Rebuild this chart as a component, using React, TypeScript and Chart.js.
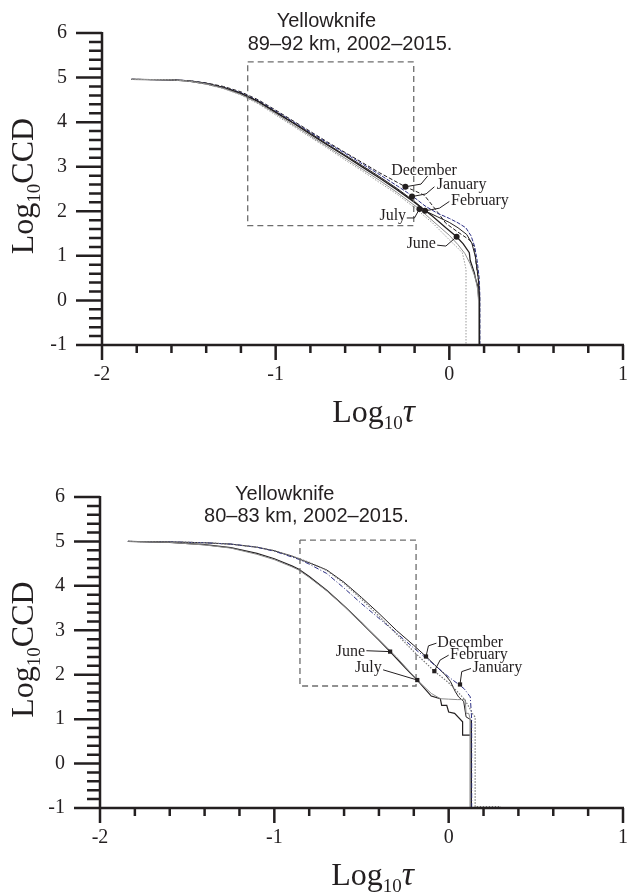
import { useEffect, useRef } from 'react';
import { Chart, registerables } from 'chart.js';
Chart.register(...registerables);

// ---------- shared axis ranges ----------
const X_MIN = -2;
const X_MAX = 1;
const Y_MIN = -1;
const Y_MAX = 6;
const MINOR_STEP = 0.2;

// ---------- top panel: 89–92 km ----------
const TOP_TITLE = ['Yellowknife', '89–92 km, 2002–2015.'];
const TOP_TITLE_X = [-0.994, -1.161];
const TOP_TITLE_Y = [6.14, 5.62];

const TOP_DEC_X = [-1.83, -1.6, -1.5, -1.4, -1.3, -1.2, -1.1, -1.0, -0.9, -0.8, -0.7, -0.6, -0.5, -0.4, -0.3, -0.253, -0.2, -0.144, -0.077, -0.02, 0.047, 0.115, 0.144, 0.155, 0.168, 0.172, 0.172];
const TOP_DEC_Y = [4.96, 4.95, 4.93, 4.88, 4.8, 4.68, 4.5, 4.27, 4.03, 3.79, 3.55, 3.32, 3.09, 2.86, 2.65, 2.55, 2.46, 2.36, 2.03, 1.73, 1.54, 1.36, 1.21, 0.8, 0.45, 0.2, -1];

const TOP_JAN_X = [-1.83, -1.6, -1.5, -1.4, -1.3, -1.2, -1.1, -1.0, -0.9, -0.8, -0.7, -0.6, -0.5, -0.4, -0.3, -0.215, -0.14, -0.07, 0.0, 0.05, 0.095, 0.125, 0.145, 0.16, 0.172, 0.176, 0.176];
const TOP_JAN_Y = [4.96, 4.95, 4.93, 4.87, 4.78, 4.66, 4.48, 4.25, 4.01, 3.77, 3.53, 3.3, 3.06, 2.82, 2.57, 2.35, 2.12, 1.96, 1.84, 1.74, 1.63, 1.45, 1.22, 0.9, 0.5, 0.1, -1];

const TOP_FEB_X = [-1.83, -1.6, -1.5, -1.4, -1.3, -1.2, -1.1, -1.0, -0.9, -0.8, -0.7, -0.6, -0.5, -0.4, -0.3, -0.2, -0.14, -0.07, 0.0, 0.05, 0.1, 0.13, 0.15, 0.165, 0.174, 0.174];
const TOP_FEB_Y = [4.96, 4.95, 4.93, 4.87, 4.78, 4.65, 4.47, 4.23, 3.99, 3.75, 3.5, 3.26, 3.02, 2.77, 2.51, 2.22, 2.01, 1.88, 1.75, 1.63, 1.48, 1.28, 0.98, 0.55, 0.1, -1];

const TOP_JUN_X = [-1.83, -1.6, -1.5, -1.4, -1.3, -1.2, -1.1, -1.0, -0.9, -0.8, -0.7, -0.6, -0.5, -0.4, -0.3, -0.2, -0.1, -0.02, 0.042, 0.08, 0.115, 0.12, 0.144, 0.15, 0.165, 0.17, 0.17];
const TOP_JUN_Y = [4.96, 4.95, 4.92, 4.86, 4.77, 4.64, 4.46, 4.22, 3.98, 3.73, 3.48, 3.24, 2.99, 2.74, 2.48, 2.2, 1.9, 1.63, 1.43, 1.27, 1.07, 0.9, 0.62, 0.5, 0.3, 0.0, -1];

const TOP_JUL_X = [-1.83, -1.6, -1.5, -1.4, -1.3, -1.2, -1.1, -1.0, -0.9, -0.8, -0.7, -0.6, -0.5, -0.4, -0.3, -0.172, -0.1, 0.0, 0.05, 0.09, 0.12, 0.15, 0.163, 0.168, 0.168];
const TOP_JUL_Y = [4.96, 4.95, 4.92, 4.86, 4.76, 4.62, 4.43, 4.19, 3.94, 3.69, 3.44, 3.19, 2.94, 2.69, 2.42, 2.05, 1.8, 1.46, 1.25, 1.05, 0.82, 0.5, 0.25, 0.0, -1];

const TOP_GRAY_X = [-1.83, -1.6, -1.5, -1.4, -1.3, -1.2, -1.1, -1.0, -0.9, -0.8, -0.7, -0.6, -0.5, -0.4, -0.3, -0.2, -0.097, 0.0, 0.05, 0.075, 0.088, 0.096, 0.096];
const TOP_GRAY_Y = [4.96, 4.95, 4.92, 4.85, 4.75, 4.61, 4.41, 4.16, 3.91, 3.66, 3.41, 3.15, 2.9, 2.64, 2.38, 2.08, 1.74, 1.36, 1.17, 1.07, 0.85, 0.7, -1];

const TOP_BOX_X = [-1.161, -0.205, -0.205, -1.161, -1.161];
const TOP_BOX_Y = [5.35, 5.35, 1.68, 1.68, 5.35];

const TOP_MONTHS = ['December', 'January', 'February', 'July', 'June'];
const TOP_DOT_X = [-0.253, -0.215, -0.14, -0.172, 0.042];
const TOP_DOT_Y = [2.55, 2.33, 2.01, 2.05, 1.43];
const TOP_LABEL_X = [-0.335, -0.073, 0.01, -0.249, -0.077];
const TOP_LABEL_Y = [2.81, 2.5, 2.14, 1.8, 1.18];
const TOP_LEADER_X = [
  [-0.253, -0.163, -0.125],
  [-0.215, -0.134, -0.086],
  [-0.14, -0.057, 0.0],
  [-0.245, -0.201, -0.172],
  [-0.07, -0.02, 0.042],
];
const TOP_LEADER_Y = [
  [2.55, 2.61, 2.79],
  [2.33, 2.39, 2.55],
  [2.01, 2.07, 2.22],
  [1.85, 1.85, 2.05],
  [1.24, 1.22, 1.43],
];

// ---------- bottom panel: 80–83 km ----------
const BOT_TITLE = ['Yellowknife', '80–83 km, 2002–2015.'];
const BOT_TITLE_X = [-1.225, -1.403];
const BOT_TITLE_Y = [5.93, 5.44];

const BOT_DEC_X = [-1.84, -1.6, -1.4, -1.25, -1.1, -1.0, -0.9, -0.862, -0.8, -0.7, -0.6, -0.5, -0.4, -0.3, -0.2, -0.13, -0.08, -0.02, 0.01, 0.038, 0.057, 0.086, 0.1, 0.13, 0.13];
const BOT_DEC_Y = [5.0, 4.99, 4.97, 4.94, 4.87, 4.79, 4.67, 4.61, 4.52, 4.36, 4.08, 3.74, 3.38, 3.0, 2.66, 2.41, 2.22, 2.0, 1.85, 1.62, 1.5, 1.4, 1.05, 0.98, -1];

const BOT_JAN_X = [-1.84, -1.6, -1.4, -1.25, -1.1, -1.0, -0.9, -0.862, -0.8, -0.7, -0.6, -0.5, -0.4, -0.3, -0.2, -0.1, 0.0, 0.065, 0.09, 0.124, 0.132, 0.132];
const BOT_JAN_Y = [5.0, 4.99, 4.97, 4.94, 4.87, 4.78, 4.65, 4.6, 4.49, 4.28, 3.95, 3.6, 3.27, 2.94, 2.6, 2.28, 1.95, 1.76, 1.68, 1.5, 1.0, -1];

const BOT_FEB_X = [-1.84, -1.6, -1.4, -1.25, -1.1, -1.0, -0.9, -0.862, -0.8, -0.7, -0.6, -0.5, -0.4, -0.3, -0.2, -0.082, 0.0, 0.05, 0.09, 0.12, 0.14, 0.152, 0.152, 0.3];
const BOT_FEB_Y = [5.0, 4.99, 4.97, 4.94, 4.87, 4.79, 4.67, 4.62, 4.53, 4.35, 4.06, 3.7, 3.32, 2.92, 2.52, 2.08, 1.82, 1.62, 1.45, 1.25, 1.1, 1.05, -0.97, -0.97];

const BOT_JUN_X = [-1.84, -1.6, -1.4, -1.25, -1.1, -1.0, -0.9, -0.862, -0.8, -0.7, -0.6, -0.5, -0.4, -0.336, -0.25, -0.18, -0.1, -0.048, -0.04, -0.011, 0.0, 0.034, 0.08, 0.08, 0.126, 0.126];
const BOT_JUN_Y = [5.0, 4.98, 4.93, 4.86, 4.73, 4.61, 4.45, 4.38, 4.21, 3.9, 3.55, 3.17, 2.78, 2.52, 2.16, 1.88, 1.52, 1.46, 1.31, 1.31, 1.16, 1.13, 0.94, 0.64, 0.64, -1];

const BOT_JUL_X = [-1.84, -1.6, -1.4, -1.25, -1.1, -1.0, -0.9, -0.862, -0.8, -0.7, -0.6, -0.5, -0.4, -0.3, -0.18, -0.1, -0.048, 0.0, 0.05, 0.095, 0.1, 0.115, 0.124, 0.124];
const BOT_JUL_Y = [5.0, 4.98, 4.92, 4.85, 4.71, 4.59, 4.43, 4.36, 4.19, 3.89, 3.54, 3.17, 2.79, 2.4, 1.88, 1.58, 1.46, 1.45, 1.44, 1.44, 1.13, 1.13, 1.0, -1];

const BOT_BOX_X = [-0.853, -0.187, -0.187, -0.853, -0.853];
const BOT_BOX_Y = [5.03, 5.03, 1.746, 1.746, 5.03];

const BOT_MONTHS = ['December', 'February', 'January', 'June', 'July'];
const BOT_DOT_X = [-0.13, -0.082, 0.065, -0.336, -0.18];
const BOT_DOT_Y = [2.41, 2.08, 1.78, 2.52, 1.88];
const BOT_LABEL_X = [-0.065, 0.008, 0.136, -0.48, -0.384];
const BOT_LABEL_Y = [2.624, 2.354, 2.061, 2.41, 2.061];
const BOT_LEADER_X = [
  [-0.13, -0.116, -0.07],
  [-0.082, -0.049, 0.0],
  [0.065, 0.075, 0.128],
  [-0.472, -0.336],
  [-0.376, -0.18],
];
const BOT_LEADER_Y = [
  [2.41, 2.65, 2.71],
  [2.08, 2.33, 2.44],
  [1.78, 2.07, 2.14],
  [2.54, 2.52],
  [2.11, 1.88],
];

// ---------- styles ----------
const INK = '#231f20';
const BLUE = '#2b2e83';
const GRAY = '#8c8c8c';
const SERIF = '"Liberation Serif", "Times New Roman", serif';
const SANS = '"Liberation Sans", Arial, sans-serif';

type LineStyle = { color: string; width: number; dash: number[] };
type SeriesCfg = { xs: number[]; ys: number[]; style: LineStyle };

interface PanelCfg {
  canvasH: number;
  padTop: number;
  padRight: number;
  yAxisW: number;
  xAxisH: number;
  title: string[];
  titleX: number[];
  titleY: number[];
  series: SeriesCfg[];
  boxX: number[];
  boxY: number[];
  months: string[];
  dotX: number[];
  dotY: number[];
  labelX: number[];
  labelY: number[];
  labelAlign: CanvasTextAlign[];
  leaderX: number[][];
  leaderY: number[][];
  dotStyle: 'circle' | 'rect';
}

const pts = (xs: number[], ys: number[]) => xs.map((x, i) => ({ x, y: ys[i] }));

const TOP_CFG: PanelCfg = {
  canvasH: 446,
  padTop: 33,
  padRight: 3,
  yAxisW: 102,
  xAxisH: 101,
  title: TOP_TITLE,
  titleX: TOP_TITLE_X,
  titleY: TOP_TITLE_Y,
  series: [
    { xs: TOP_GRAY_X, ys: TOP_GRAY_Y, style: { color: '#9a9a9a', width: 1, dash: [1.5, 1.5] } },
    { xs: TOP_JUL_X, ys: TOP_JUL_Y, style: { color: GRAY, width: 1, dash: [] } },
    { xs: TOP_FEB_X, ys: TOP_FEB_Y, style: { color: INK, width: 1, dash: [] } },
    { xs: TOP_JUN_X, ys: TOP_JUN_Y, style: { color: INK, width: 1.3, dash: [] } },
    { xs: TOP_JAN_X, ys: TOP_JAN_Y, style: { color: BLUE, width: 1, dash: [4, 1.5] } },
    { xs: TOP_DEC_X, ys: TOP_DEC_Y, style: { color: INK, width: 1, dash: [4, 2] } },
  ],
  boxX: TOP_BOX_X,
  boxY: TOP_BOX_Y,
  months: TOP_MONTHS,
  dotX: TOP_DOT_X,
  dotY: TOP_DOT_Y,
  labelX: TOP_LABEL_X,
  labelY: TOP_LABEL_Y,
  labelAlign: ['left', 'left', 'left', 'right', 'right'],
  leaderX: TOP_LEADER_X,
  leaderY: TOP_LEADER_Y,
  dotStyle: 'circle',
};

const BOT_CFG: PanelCfg = {
  canvasH: 446,
  padTop: 51,
  padRight: 4,
  yAxisW: 100,
  xAxisH: 84,
  title: BOT_TITLE,
  titleX: BOT_TITLE_X,
  titleY: BOT_TITLE_Y,
  series: [
    { xs: BOT_FEB_X, ys: BOT_FEB_Y, style: { color: '#777777', width: 1.2, dash: [1.5, 1.5] } },
    { xs: BOT_JUL_X, ys: BOT_JUL_Y, style: { color: GRAY, width: 1, dash: [] } },
    { xs: BOT_JUN_X, ys: BOT_JUN_Y, style: { color: INK, width: 1.2, dash: [] } },
    { xs: BOT_JAN_X, ys: BOT_JAN_Y, style: { color: BLUE, width: 1, dash: [5, 2, 1, 2] } },
    { xs: BOT_DEC_X, ys: BOT_DEC_Y, style: { color: INK, width: 1, dash: [] } },
  ],
  boxX: BOT_BOX_X,
  boxY: BOT_BOX_Y,
  months: BOT_MONTHS,
  dotX: BOT_DOT_X,
  dotY: BOT_DOT_Y,
  labelX: BOT_LABEL_X,
  labelY: BOT_LABEL_Y,
  labelAlign: ['left', 'left', 'left', 'right', 'right'],
  leaderX: BOT_LEADER_X,
  leaderY: BOT_LEADER_Y,
  dotStyle: 'rect',
};

type Part = { text: string; font: string; dy: number };

function drawParts(ctx: CanvasRenderingContext2D, parts: Part[], cx: number, baseY: number) {
  let total = 0;
  for (const p of parts) {
    ctx.font = p.font;
    total += ctx.measureText(p.text).width;
  }
  let x = cx - total / 2;
  ctx.textAlign = 'left';
  ctx.textBaseline = 'alphabetic';
  for (const p of parts) {
    ctx.font = p.font;
    ctx.fillText(p.text, x, baseY + p.dy);
    x += ctx.measureText(p.text).width;
  }
}

function makeOverlay(cfg: PanelCfg) {
  return {
    id: 'overlay',
    afterDraw(chart: any) {
      const { ctx, chartArea: a, scales } = chart;
      const xs = scales.x;
      const ys = scales.y;
      ctx.save();
      ctx.strokeStyle = INK;
      ctx.fillStyle = INK;
      ctx.lineWidth = 2.5;
      ctx.lineCap = 'butt';
      ctx.setLineDash([]);
      ctx.beginPath();
      const yTop = ys.getPixelForValue(Y_MAX);
      const yBot = ys.getPixelForValue(Y_MIN);
      const xL = xs.getPixelForValue(X_MIN);
      const xR = xs.getPixelForValue(X_MAX);
      ctx.moveTo(xL, yTop - 1);
      ctx.lineTo(xL, yBot);
      ctx.moveTo(xL, yBot);
      ctx.lineTo(xR + 1, yBot);
      const ny = Math.round((Y_MAX - Y_MIN) / MINOR_STEP);
      for (let i = 0; i <= ny; i++) {
        const py = ys.getPixelForValue(Y_MIN + i * MINOR_STEP);
        const major = i % 5 === 0;
        ctx.moveTo(xL, py);
        ctx.lineTo(xL - (major ? 26 : 13), py);
      }
      const nx = Math.round((X_MAX - X_MIN) / MINOR_STEP);
      for (let i = 0; i <= nx; i++) {
        const px = xs.getPixelForValue(X_MIN + i * MINOR_STEP);
        const major = i % 5 === 0;
        ctx.moveTo(px, yBot);
        ctx.lineTo(px, yBot + (major ? 15 : 8));
      }
      ctx.stroke();

      // panel titles
      ctx.font = `20px ${SANS}`;
      ctx.textAlign = 'left';
      ctx.textBaseline = 'alphabetic';
      cfg.title.forEach((t, i) => {
        ctx.fillText(t, xs.getPixelForValue(cfg.titleX[i]), ys.getPixelForValue(cfg.titleY[i]));
      });

      // month labels
      ctx.font = `16px ${SERIF}`;
      cfg.months.forEach((m, i) => {
        ctx.textAlign = cfg.labelAlign[i];
        ctx.fillText(m, xs.getPixelForValue(cfg.labelX[i]), ys.getPixelForValue(cfg.labelY[i]));
      });

      // x axis title
      drawParts(
        ctx,
        [
          { text: 'Log', font: `32px ${SERIF}`, dy: 0 },
          { text: '10', font: `19px ${SERIF}`, dy: 7 },
          { text: 'τ', font: `italic 34px ${SERIF}`, dy: 0 },
        ],
        (a.left + a.right) / 2 + 11,
        a.bottom + 77,
      );

      // y axis title
      ctx.save();
      ctx.translate(33, (a.top + a.bottom) / 2 - 3);
      ctx.rotate(-Math.PI / 2);
      drawParts(
        ctx,
        [
          { text: 'Log', font: `32px ${SERIF}`, dy: 0 },
          { text: '10', font: `19px ${SERIF}`, dy: 7 },
          { text: 'CCD', font: `32px ${SERIF}`, dy: 0 },
        ],
        0,
        0,
      );
      ctx.restore();
      ctx.restore();
    },
  };
}

function Panel({ cfg }: { cfg: PanelCfg }) {
  const ref = useRef<HTMLCanvasElement | null>(null);
  useEffect(() => {
    if (!ref.current) return;
    const datasets: any[] = [];
    datasets.push({
      data: pts(cfg.dotX, cfg.dotY),
      showLine: false,
      pointRadius: 3,
      pointStyle: cfg.dotStyle,
      pointBackgroundColor: INK,
      pointBorderColor: INK,
      pointBorderWidth: 0,
      order: 0,
    });
    cfg.leaderX.forEach((lx, i) => {
      datasets.push({
        data: pts(lx, cfg.leaderY[i]),
        showLine: true,
        borderColor: INK,
        borderWidth: 1,
        pointRadius: 0,
        tension: 0,
        order: 1,
      });
    });
    datasets.push({
      data: pts(cfg.boxX, cfg.boxY),
      showLine: true,
      borderColor: '#6d6d6d',
      borderWidth: 1.3,
      borderDash: [6, 4],
      pointRadius: 0,
      tension: 0,
      order: 2,
    });
    cfg.series.forEach((s, i) => {
      datasets.push({
        data: pts(s.xs, s.ys),
        showLine: true,
        borderColor: s.style.color,
        borderWidth: s.style.width,
        borderDash: s.style.dash,
        pointRadius: 0,
        tension: 0,
        order: 3 + i,
      });
    });

    const tickFont = { family: SERIF, size: 20 };
    const chart = new Chart(ref.current, {
      type: 'scatter',
      data: { datasets },
      options: {
        responsive: false,
        animation: false,
        events: [],
        layout: { padding: { left: 0, right: cfg.padRight, top: cfg.padTop, bottom: 0 } },
        plugins: { legend: { display: false }, tooltip: { enabled: false }, title: { display: false } },
        scales: {
          x: {
            type: 'linear',
            min: X_MIN,
            max: X_MAX,
            grid: { display: false, drawTicks: false },
            border: { display: false },
            ticks: {
              stepSize: 1,
              autoSkip: false,
              maxRotation: 0,
              padding: 18,
              color: INK,
              font: tickFont,
              callback: (v: any) => String(v),
            },
            afterFit: (s: any) => {
              s.height = cfg.xAxisH;
              s.paddingLeft = 0;
              s.paddingRight = 0;
            },
          },
          y: {
            type: 'linear',
            min: Y_MIN,
            max: Y_MAX,
            grid: { display: false, drawTicks: false },
            border: { display: false },
            ticks: {
              stepSize: 1,
              autoSkip: false,
              padding: 35,
              color: INK,
              font: tickFont,
              callback: (v: any) => String(v),
            },
            afterFit: (s: any) => {
              s.width = cfg.yAxisW;
              s.paddingTop = 0;
              s.paddingBottom = 0;
            },
          },
        },
      } as any,
      plugins: [makeOverlay(cfg)],
    });
    return () => chart.destroy();
  }, [cfg]);
  return <canvas ref={ref} width={627} height={cfg.canvasH} style={{ display: 'block', width: 627, height: cfg.canvasH }} />;
}

export default function App() {
  return (
    <div style={{ position: 'absolute', left: 0, top: 0, width: 627, height: 892, background: '#fff' }}>
      <Panel cfg={TOP_CFG} />
      <Panel cfg={BOT_CFG} />
    </div>
  );
}
